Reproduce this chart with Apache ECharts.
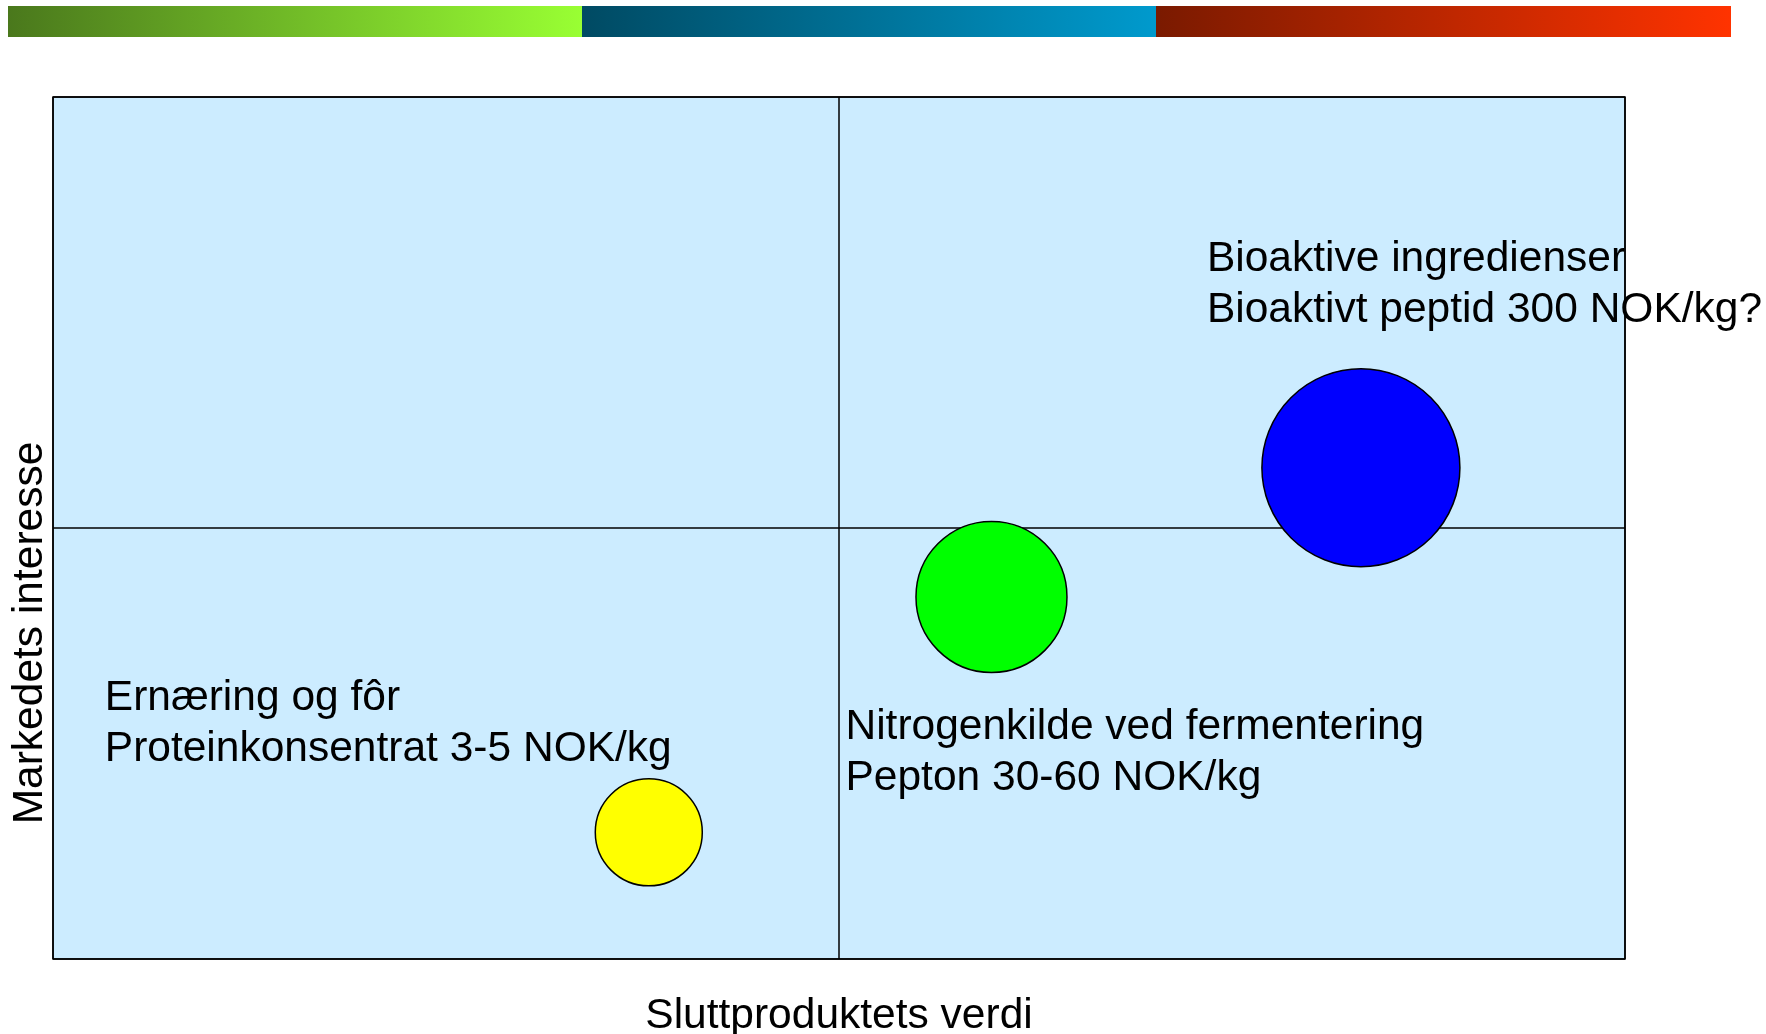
<!DOCTYPE html>
<html>
<head>
<meta charset="utf-8">
<script src="https://cdn.jsdelivr.net/npm/echarts@6/dist/echarts.min.js"></script>
<style>
    html, body { margin: 0; padding: 0; background: #fff; }
    #chart { width: 1766px; height: 1034px; }
</style>
</head>
<body>
<div id="chart"></div>
<script>
// produktgrupper
var products = ['Ernæring og fôr', 'Nitrogenkilde ved fermentering', 'Bioaktive ingredienser'];
var priceText = ['Proteinkonsentrat 3-5 NOK/kg', 'Pepton 30-60 NOK/kg', 'Bioaktivt peptid 300 NOK/kg?'];
// sluttproduktets verdi (x) og markedets interesse (y), 0-100
var productValue = [37.9, 59.7, 83.2];
var marketInterest = [14.7, 42.0, 57.0];
var bubbleWeight = [5.35, 7.55, 9.9];
var bubbleColors = ['#FFFF00', '#00FF00', '#0000FF'];

var font = '"Liberation Sans", Arial, sans-serif';
// label placement relative to bubble centre
var labelOffsets = [[-544, -109], [-146, 156], [-154, -183]];

var seriesData = products.map(function (name, i) {
    return {
        name: name,
        value: [productValue[i], marketInterest[i], bubbleWeight[i]],
        itemStyle: { color: bubbleColors[i] },
        label: {
            show: true,
            position: 'inside',
            offset: labelOffsets[i],
            align: 'left',
            verticalAlign: 'middle',
            formatter: name + '\n' + priceText[i]
        }
    };
});

function grad(c0, c1) {
    return new echarts.graphic.LinearGradient(0, 0, 1, 0, [
        { offset: 0, color: c0 },
        { offset: 1, color: c1 }
    ]);
}

var chart = echarts.init(document.getElementById('chart'));
var option = {
    animation: false,
    textStyle: { fontFamily: font },
    grid: {
        left: 53, top: 97, right: 141, bottom: 75,
        outerBoundsMode: 'none',
        containLabel: false,
        show: true,
        backgroundColor: '#CCECFF',
        borderColor: '#000',
        borderWidth: 1.5
    },
    xAxis: {
        type: 'value', min: 0, max: 100, interval: 50,
        name: 'Sluttproduktets verdi',
        nameLocation: 'middle',
        nameGap: 35.5,
        nameTextStyle: { fontSize: 42.5, color: '#000', fontFamily: font },
        axisLine: { show: false }, axisTick: { show: false }, axisLabel: { show: false },
        splitLine: { show: true, lineStyle: { color: '#000', width: 1.5 } }
    },
    yAxis: {
        type: 'value', min: 0, max: 100, interval: 50,
        axisLine: { show: false }, axisTick: { show: false }, axisLabel: { show: false },
        splitLine: { show: true, lineStyle: { color: '#000', width: 1.5 } }
    },
    graphic: [
        { type: 'rect', shape: { x: 8, y: 6, width: 574, height: 31 }, style: { fill: grad('#4A781C', '#99FF33') } },
        { type: 'rect', shape: { x: 582, y: 6, width: 574, height: 31 }, style: { fill: grad('#004A63', '#009ACD') } },
        { type: 'rect', shape: { x: 1156, y: 6, width: 575, height: 31 }, style: { fill: grad('#7A1A00', '#FF3300') } },
        {
            type: 'text', x: 30, y: 633, rotation: Math.PI / 2,
            style: {
                text: 'Markedets interesse', fontSize: 42.5, fontFamily: font, fill: '#000',
                textAlign: 'center', textVerticalAlign: 'middle'
            }
        }
    ],
    series: [{
        type: 'scatter',
        data: seriesData,
        symbolSize: function (v) { return v[2] * 20; },
        itemStyle: { borderColor: '#000', borderWidth: 1.5, opacity: 1 },
        label: { fontSize: 42.5, lineHeight: 51, color: '#000', fontFamily: font },
        emphasis: { disabled: true }
    }]
};
chart.setOption(option);
</script>
</body>
</html>
